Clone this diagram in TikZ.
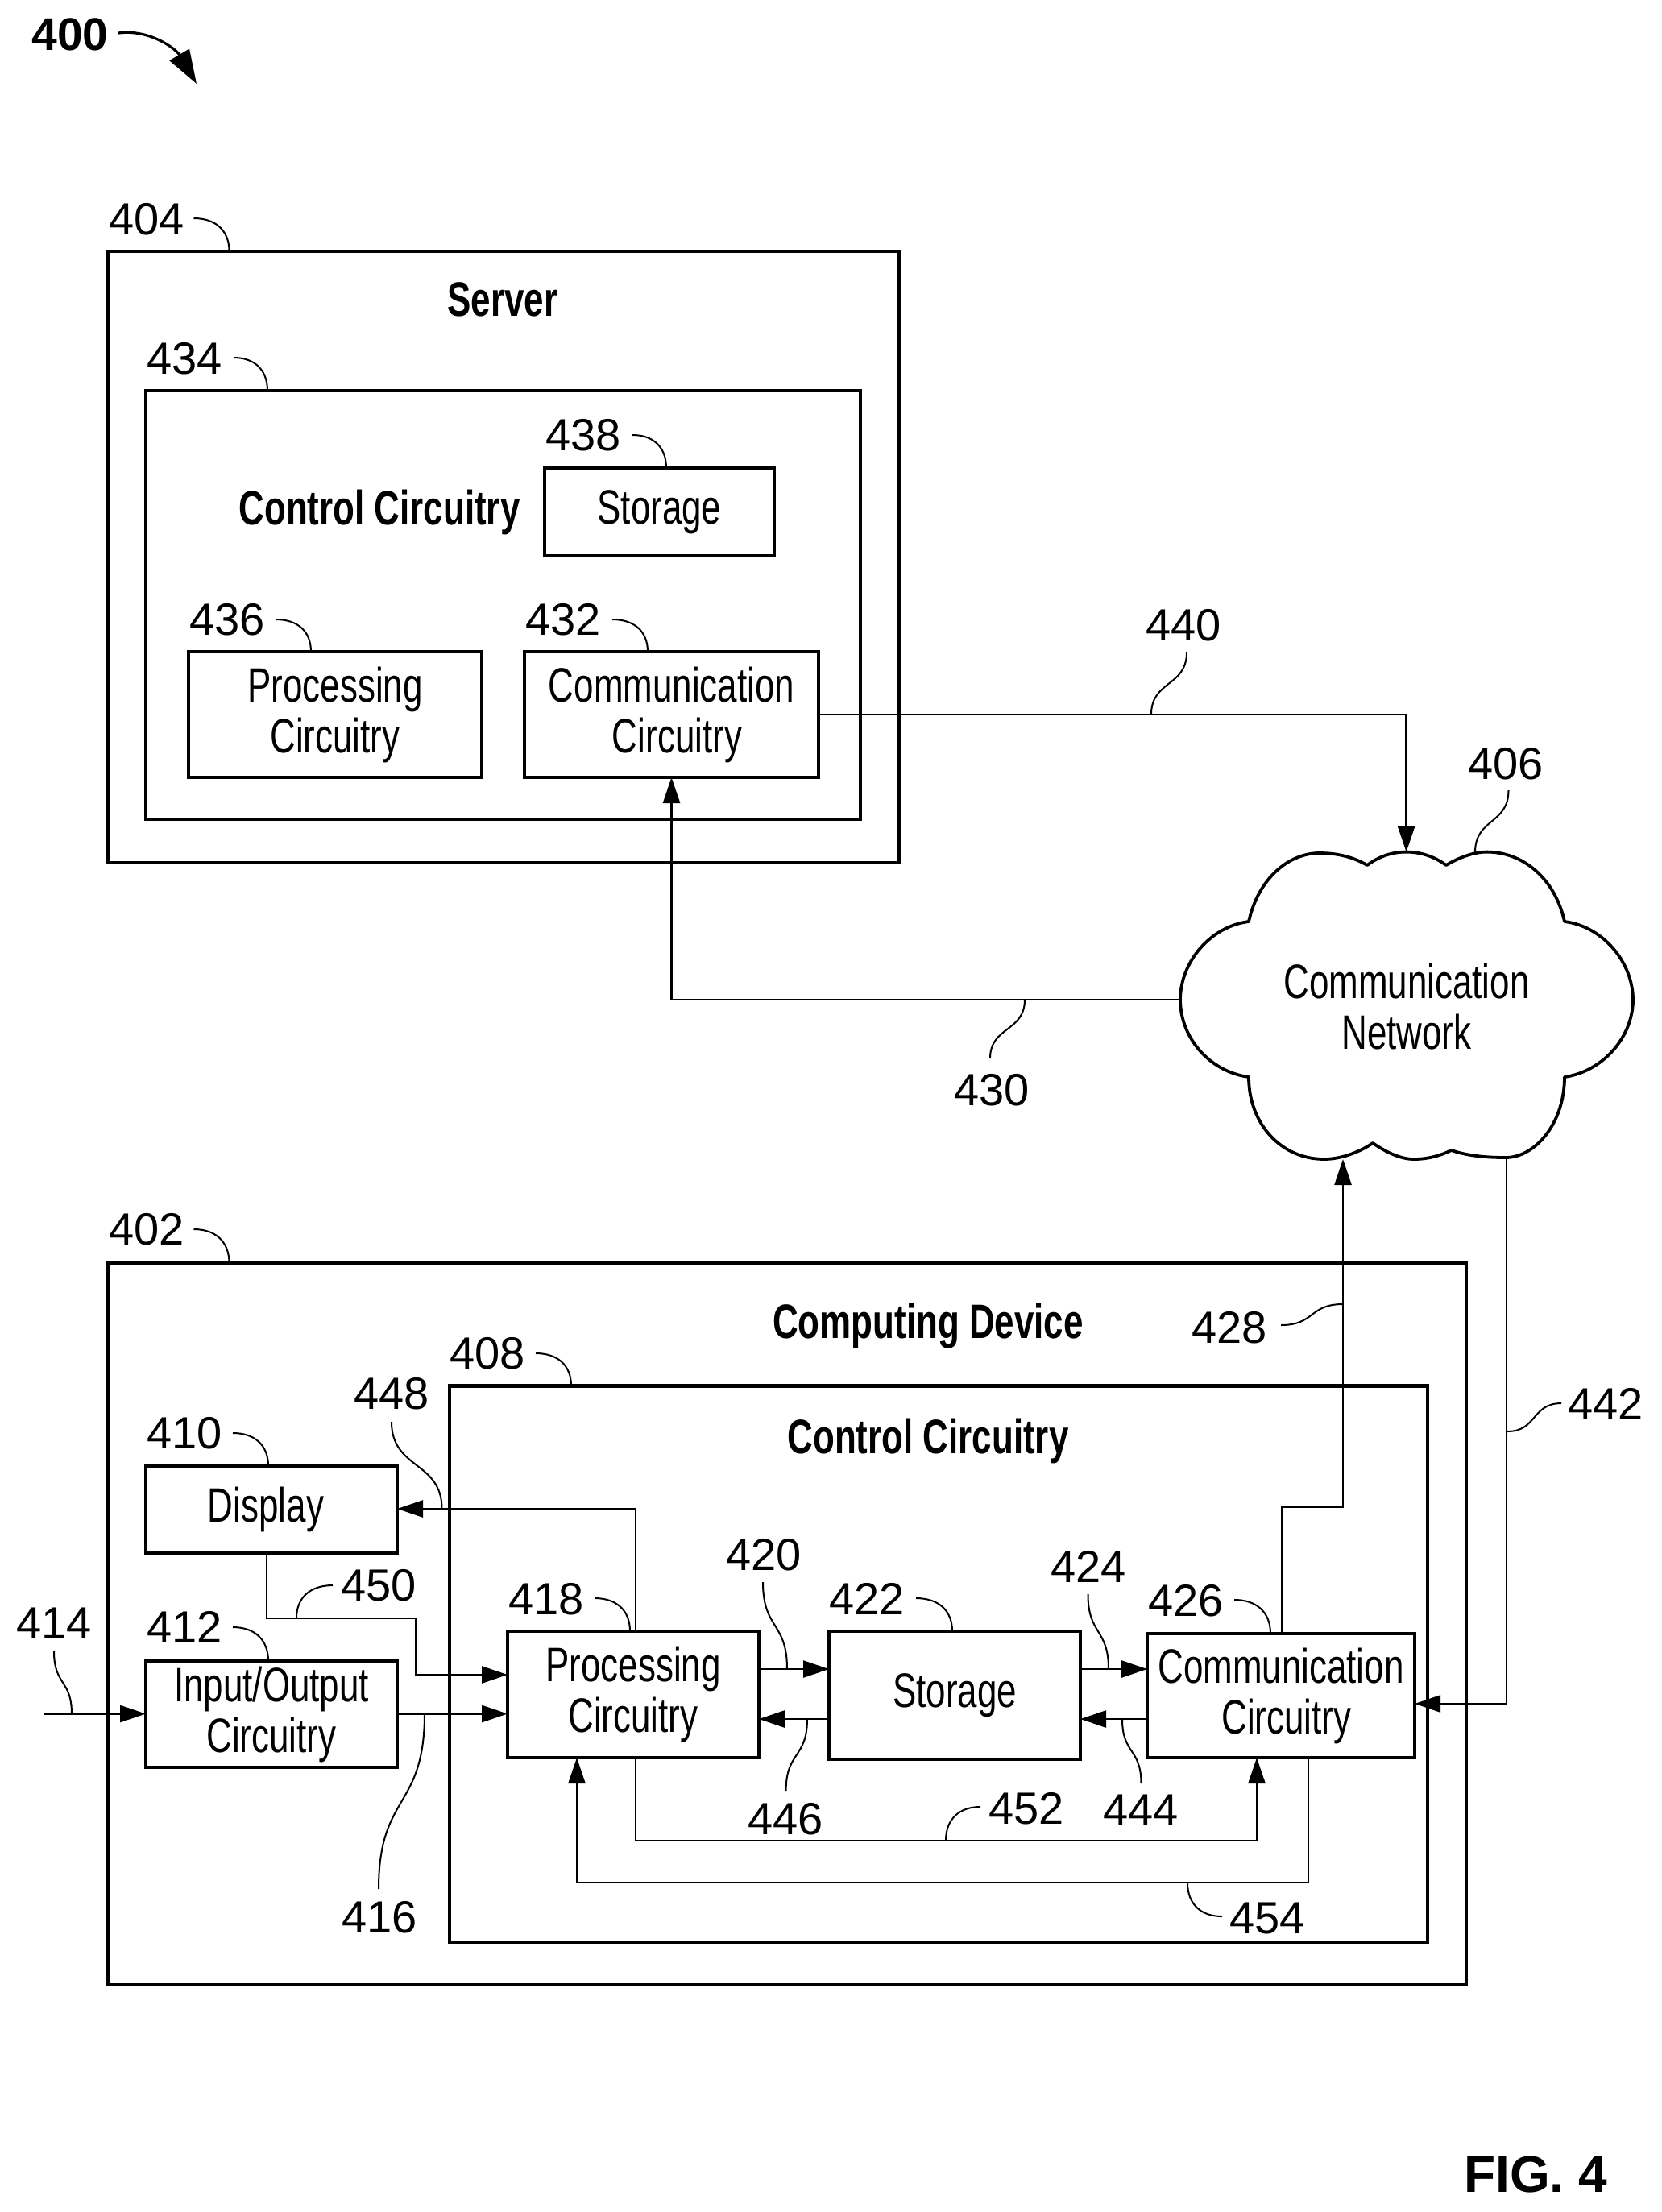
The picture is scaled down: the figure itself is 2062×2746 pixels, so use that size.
\documentclass[tikz,border=0pt]{standalone}
\usepackage{fontspec}
\setmainfont{Liberation Sans}
\newfontfamily\nar[FakeStretch=0.732]{Liberation Sans}
\usetikzlibrary{arrows.meta}
\tikzset{
  x=0.5pt,y=-0.5pt,
  boxbase/.style={draw,rectangle,inner sep=0pt,outer sep=0pt,align=center,font=\nar\fontsize{30}{31.5}\selectfont},
  outerbox/.style={boxbase,line width=2.2pt},
  innerbox/.style={boxbase,line width=1.8pt},
  title/.style={inner sep=0pt,font=\nar\bfseries\fontsize{30}{31.5}\selectfont},
  bodytext/.style={inner sep=0pt,align=center,font=\nar\fontsize{30}{31.5}\selectfont},
  lab/.style={inner sep=0pt,font=\fontsize{28}{28}\selectfont},
  boldlab/.style={inner sep=0pt,font=\bfseries\fontsize{28.5}{28.5}\selectfont},
  figlab/.style={inner sep=0pt,font=\bfseries\fontsize{32}{32}\selectfont},
  conn/.style={line width=1.3pt},
  arr/.style={conn,-{Triangle[length=16pt,width=10.5pt]}},
  leader/.style={line width=1pt},
  cloudline/.style={line width=1.9pt,line join=round},
}
% box given by its corners in reference pixels
\newcommand{\pxbox}[7]{%
  \pgfmathsetmacro\bw{(#5-#3)*0.5}\pgfmathsetmacro\bh{(#6-#4)*0.5}%
  \node[#2,minimum width=\bw pt,minimum height=\bh pt] (#1) at ({(#3+#5)/2},{(#4+#6)/2}) {#7};}
% leader that leaves horizontally and lands vertically
\newcommand{\hookl}[5]{%
  \coordinate (s#1) at (#2,#3);\coordinate (e#1) at (#4,#5);
  \draw[leader] (s#1) .. controls ({#2+0.6*(#4-#2)},#3) and (#4,{#3+0.35*(#5-#3)}) .. (e#1);}
% leader S-curve, vertical at both ends
\newcommand{\vesl}[5]{%
  \coordinate (s#1) at (#2,#3);\coordinate (e#1) at (#4,#5);
  \draw[leader] (s#1) .. controls (#2,{#3+0.55*(#5-#3)}) and (#4,{#3+0.45*(#5-#3)}) .. (e#1);}
% leader S-curve, horizontal at both ends
\newcommand{\hosl}[5]{%
  \coordinate (s#1) at (#2,#3);\coordinate (e#1) at (#4,#5);
  \draw[leader] (s#1) .. controls ({#2+0.55*(#4-#2)},#3) and ({#2+0.45*(#4-#2)},#5) .. (e#1);}
\begin{document}
\begin{tikzpicture}
\useasboundingbox (0,0) rectangle (2062,2746);
\fill[white] (0,0) rectangle (2062,2746);

% ---------- server ----------
\pxbox{server}{outerbox}{133.5}{312}{1116}{1071}{}
\pxbox{ctrlA}{outerbox}{181}{485}{1068}{1017}{}
\pxbox{storA}{innerbox}{676}{581}{961}{690}{Storage}
\pxbox{procA}{innerbox}{234}{809}{598}{965}{Processing\\Circuitry}
\pxbox{commA}{innerbox}{651}{809}{1016}{965}{Communication\\\hspace*{7pt}Circuitry}
\node[title] (tServer) at (624,372) {Server};
\node[title] (tCtrlA) at (471,636) {Control Circuitry};

% ---------- cloud ----------
\draw[cloudline] (1550,1144)
  .. controls (1562,1090) and (1600,1059) .. (1638,1059)
  .. controls (1660,1059) and (1680,1064) .. (1697,1074)
  .. controls (1712,1063) and (1728,1057.6) .. (1745.6,1057.6)
  .. controls (1763,1057.6) and (1780,1063) .. (1795,1074)
  .. controls (1812,1064) and (1830,1057.6) .. (1845.5,1057.6)
  .. controls (1890,1057.6) and (1930,1090) .. (1942,1144)
  .. controls (1990,1150) and (2027,1195) .. (2027,1241)
  .. controls (2027,1287) and (1990,1330) .. (1942,1337)
  .. controls (1942,1395) and (1905,1437) .. (1869,1437)
  .. controls (1845,1437) and (1822,1435) .. (1801.5,1428)
  .. controls (1787,1435) and (1772,1439) .. (1755,1439)
  .. controls (1738,1439) and (1720,1430) .. (1704,1419)
  .. controls (1688,1430) and (1665,1439) .. (1643.6,1439)
  .. controls (1590,1439) and (1550,1395) .. (1550,1337)
  .. controls (1500,1330) and (1465,1287) .. (1465,1241)
  .. controls (1465,1195) and (1502,1150) .. (1550,1144)
  -- cycle;
\node[bodytext] (net) at (1746,1250) {Communication\\Network};
\coordinate (netTop) at (1745.6,1057.6);
\coordinate (netLeft) at (1465,1241);
\coordinate (netBotA) at (1667,1439);
\coordinate (netBotB) at (1870,1436);

% ---------- computing device ----------
\pxbox{device}{outerbox}{134}{1568}{1820}{2464}{}
\pxbox{ctrlB}{outerbox}{558}{1720.5}{1772}{2411}{}
\pxbox{disp}{innerbox}{181}{1820}{493}{1928}{Display\hspace*{7pt}}
\pxbox{io}{innerbox}{181}{2062}{493}{2194}{Input/Output\\Circuitry}
\pxbox{proc}{innerbox}{630}{2025}{942}{2182}{Processing\\Circuitry}
\pxbox{stor}{innerbox}{1029}{2025}{1341}{2184}{Storage}
\pxbox{comm}{innerbox}{1424}{2028}{1756}{2182}{Communication\\\hspace*{7pt}Circuitry}
\node[title] (tDevice) at (1152,1646) {Computing Device};
\node[title] (tCtrlB) at (1152,1789) {Control Circuitry};

% ---------- connectors ----------
\draw[arr] (commA.east) -| (netTop);
\draw[arr] (netLeft) -| (commA.south);
\draw[arr] (comm.north -| 1591,0) |- (1667,1871) -- (netBotA);
\draw[arr] (netBotB) |- (comm.east |- 0,2115);
\coordinate (in414) at (55,2127.5);
\draw[arr] (in414) -- (io.west |- in414);
\draw[arr] (io.east |- in414) -- (proc.west |- in414);
\draw[arr] (disp.south -| 331,0) |- (516,2009) |- (proc.west |- 0,2079);
\draw[arr] (proc.north -| 789,0) |- (disp.east |- 0,1873);
\draw[arr] (proc.east |- 0,2072) -- (stor.west |- 0,2072);
\draw[arr] (stor.west |- 0,2134) -- (proc.east |- 0,2134);
\draw[arr] (stor.east |- 0,2072) -- (comm.west |- 0,2072);
\draw[arr] (comm.west |- 0,2134) -- (stor.east |- 0,2134);
\draw[arr] (proc.south -| 789,0) |- (1560,2285) -- (comm.south -| 1560,0);
\draw[arr] (comm.south -| 1624,0) |- (716,2337) -- (proc.south -| 716,0);

% ---------- reference numerals ----------
\node[boldlab] (l400) at (87,43) {400};
\coordinate (a400s) at (147,41);
\coordinate (a400e) at (244,104);
\draw[line width=1.6pt,-{Triangle[length=21pt,width=14pt]}] (a400s) .. controls (185,36) and (218,60) .. (a400e);

\node[lab] (l404) at (182,272) {404};
\hookl{404}{240.5}{271}{284.5}{312}
\node[lab] (l434) at (229,445) {434};
\hookl{434}{290}{444}{332}{485}
\node[lab] (l438) at (724,540) {438};
\hookl{438}{785}{540}{827}{581}
\node[lab] (l436) at (282,769) {436};
\hookl{436}{342.5}{769}{386}{809}
\node[lab] (l432) at (699,769) {432};
\hookl{432}{760}{769}{804}{809}
\node[lab] (l440) at (1469,776) {440};
\vesl{440}{1473}{810}{1429}{887}
\node[lab] (l406) at (1869,948) {406};
\vesl{406}{1872.5}{981}{1831}{1058}
\node[lab] (l430) at (1231,1353) {430};
\vesl{430}{1229}{1314}{1272}{1241}
\node[lab] (l428) at (1526,1648) {428};
\hosl{428}{1590}{1645}{1667}{1619}
\node[lab] (l402) at (182,1526) {402};
\hookl{402}{240.5}{1526}{284.5}{1568}
\node[lab] (l408) at (605,1680) {408};
\hookl{408}{665}{1680}{709}{1720.5}
\node[lab] (l442) at (1993,1743) {442};
\hosl{442}{1938}{1742}{1871}{1777}
\node[lab] (l448) at (486,1730) {448};
\vesl{448}{486}{1765}{548.5}{1873}
\node[lab] (l410) at (229,1779) {410};
\hookl{410}{289}{1779}{333}{1820}
\node[lab] (l450) at (470,1968) {450};
\hookl{450}{413}{1968}{368}{2009}
\node[lab] (l414) at (67,2015) {414};
\vesl{414}{67}{2050}{89}{2127.5}
\node[lab] (l412) at (229,2020) {412};
\hookl{412}{289}{2020}{333}{2062}
\node[lab] (l418) at (678,1985) {418};
\hookl{418}{738}{1984}{782}{2025}
\node[lab] (l420) at (948,1930) {420};
\vesl{420}{947}{1964}{977}{2072}
\node[lab] (l422) at (1076,1985) {422};
\hookl{422}{1137}{1984}{1182}{2025}
\node[lab] (l424) at (1351,1945) {424};
\vesl{424}{1350.5}{1979}{1376}{2072}
\node[lab] (l426) at (1472,1987) {426};
\hookl{426}{1532}{1986}{1577}{2028}
\node[lab] (l446) at (975,2258) {446};
\vesl{446}{975.6}{2223}{1002}{2134}
\node[lab] (l444) at (1416,2247) {444};
\vesl{444}{1416.5}{2214}{1393}{2134}
\node[lab] (l452) at (1274,2245) {452};
\hookl{452}{1217}{2243}{1174}{2285}
\node[lab] (l454) at (1573,2381) {454};
\hookl{454}{1517}{2379}{1474}{2337}
\node[lab] (l416) at (471,2380) {416};
\vesl{416}{470}{2345}{527}{2127.5}

\node[figlab] (fig) at (1906,2699) {FIG. 4};
\end{tikzpicture}
\end{document}
